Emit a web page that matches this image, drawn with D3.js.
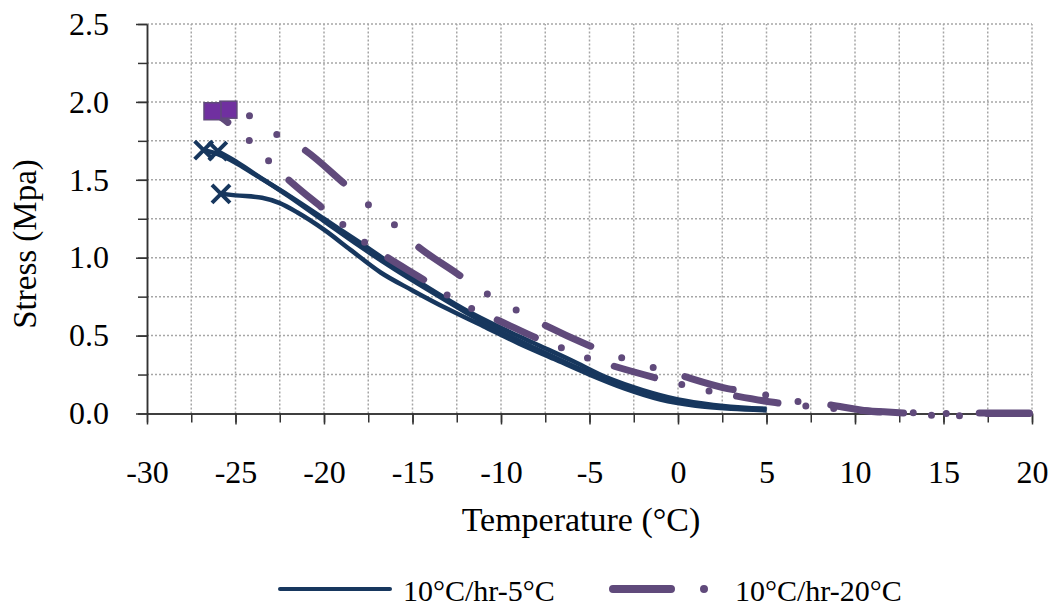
<!DOCTYPE html>
<html lang="en">
<head>
  <meta charset="UTF-8">
  <title>Stress vs temperature</title>
  <script src="https://d3js.org/d3.v7.min.js"></script>
  <style>
    body { margin: 0; background: #fff; }
    svg { display: block; font-family: "Liberation Serif", "Times New Roman", serif; }
  </style>
</head>
<body>
<script>
// axis ticks
var tempTicks = [-30, -25, -20, -15, -10, -5, 0, 5, 10, 15, 20];
var stressTicks = [0, 0.5, 1.0, 1.5, 2.0, 2.5];

// 10°C/hr-5°C : three specimens, [temperature, stress], cold end = fracture
var rate5A = [[-26.8, 1.69], [-26, 1.665], [-25, 1.61], [-24, 1.54], [-22, 1.40], [-20, 1.25],
  [-18, 1.10], [-16, 0.945], [-14, 0.80], [-12, 0.665], [-10, 0.55], [-8, 0.445], [-6, 0.34],
  [-4, 0.23], [-2, 0.15], [0, 0.09], [2, 0.055], [4, 0.035], [5, 0.03]];
var rate5B = [[-26, 1.684], [-25, 1.62], [-24, 1.545], [-22, 1.395], [-20, 1.235], [-18, 1.075],
  [-16, 0.925], [-14, 0.785], [-12, 0.65], [-10, 0.525], [-8, 0.415], [-6, 0.31], [-4, 0.21],
  [-2, 0.13], [0, 0.075], [2, 0.045], [4, 0.03], [5, 0.028]];
var rate5C = [[-25.82, 1.41], [-25, 1.40], [-23.5, 1.385], [-22.5, 1.35], [-21.5, 1.29],
  [-20, 1.18], [-18.5, 1.05], [-16.8, 0.905], [-15, 0.79], [-13, 0.67], [-11, 0.56], [-9, 0.45],
  [-7, 0.35], [-5, 0.25], [-3, 0.16], [-1, 0.09], [1, 0.05], [3, 0.03], [5, 0.02]];

// 10°C/hr-20°C : two specimens
var rate20A = [[-25.4, 1.95], [-24.2, 1.91], [-22.8, 1.80], [-21.2, 1.70], [-18.9, 1.48],
  [-17.6, 1.35], [-16.2, 1.23], [-15.0, 1.10], [-12.5, 0.90], [-11.1, 0.79], [-9.55, 0.69],
  [-8.1, 0.60], [-5.1, 0.44], [-3.5, 0.37], [-1.86, 0.31], [-0.3, 0.26], [2.8, 0.16],
  [4.5, 0.13], [6.2, 0.085], [8.0, 0.065], [11.3, 0.01], [13.0, 0.005], [14.9, 0.0],
  [16.7, 0.003], [20, 0.003]];
var rate20B = [[-26.3, 1.94], [-24.2, 1.75], [-23.2, 1.63], [-22.1, 1.51], [-20.1, 1.32],
  [-18.8, 1.20], [-17.6, 1.09], [-16.4, 1.00], [-14.1, 0.84], [-12.9, 0.75], [-11.6, 0.67],
  [-10.2, 0.60], [-7.9, 0.48], [-6.55, 0.42], [-5.2, 0.36], [-3.8, 0.31], [-1.3, 0.23],
  [0.06, 0.19], [1.5, 0.15], [2.9, 0.12], [5.5, 0.07], [7.1, 0.05], [9, 0.03], [11, 0.015],
  [12.5, 0.005], [14.2, -0.01], [15.8, -0.015], [17, 0.0], [20, 0.0]];

var legendLabels = ["10°C/hr-5°C", "10°C/hr-20°C"];

var navy = "#17375e", purple = "#604a7b", squareFill = "#7030a0";
var serif = "'Liberation Serif', 'Times New Roman', serif";
var width = 1055, height = 609;

var svg = d3.select("body").append("svg")
    .attr("width", width)
    .attr("height", height);

var x = d3.scaleLinear().domain([-30, 20]).range([147, 1032]);
var y = d3.scaleLinear().domain([0, 2.5]).range([413.5, 24]);

// dotted grid every 2.5 °C / 0.25 MPa
var xMinor = d3.range(-27.5, 20.01, 2.5);
var yMinor = d3.range(0.25, 2.51, 0.25);
var grid = svg.append("g")
    .attr("stroke", "#a6a6a6")
    .attr("stroke-width", 1.5)
    .attr("stroke-dasharray", "2,2");
grid.selectAll(".vx").data(xMinor).enter().append("line")
    .attr("x1", d => x(d)).attr("x2", d => x(d))
    .attr("y1", y(0)).attr("y2", y(2.5));
grid.selectAll(".hy").data(yMinor).enter().append("line")
    .attr("x1", x(-30)).attr("x2", x(20))
    .attr("y1", d => y(d)).attr("y2", d => y(d));

// axes: short minor ticks, then major ticks with labels
svg.append("g")
    .attr("transform", "translate(0," + y(0) + ")")
    .call(d3.axisBottom(x).tickValues(d3.range(-30, 20.01, 2.5)).tickSize(9).tickSizeOuter(0).tickFormat(""))
    .call(styleAxis);
svg.append("g")
    .attr("transform", "translate(0," + y(0) + ")")
    .call(d3.axisBottom(x).tickValues(tempTicks).tickSize(11).tickSizeOuter(0).tickPadding(36)
      .tickFormat(d => String(d)))
    .call(styleAxis);
svg.append("g")
    .attr("transform", "translate(" + x(-30) + ",0)")
    .call(d3.axisLeft(y).tickValues(d3.range(0, 2.51, 0.25)).tickSize(9).tickSizeOuter(0).tickFormat(""))
    .call(styleAxis);
svg.append("g")
    .attr("transform", "translate(" + x(-30) + ",0)")
    .call(d3.axisLeft(y).tickValues(stressTicks).tickSize(11).tickSizeOuter(0).tickPadding(27)
      .tickFormat(d3.format(".1f")))
    .call(styleAxis);

function styleAxis(g) {
  g.attr("font-family", serif).attr("font-size", 32);
  g.select(".domain").attr("stroke", "#333").attr("stroke-width", 1.5);
  g.selectAll(".tick line").attr("stroke", "#333").attr("stroke-width", 1.5);
  g.selectAll(".tick text").attr("fill", "#000");
}

svg.append("text")
    .attr("x", 581).attr("y", 531)
    .attr("text-anchor", "middle")
    .style("font-size", "34px")
    .text("Temperature (°C)");
svg.append("text")
    .attr("transform", "translate(36,244) rotate(-90)")
    .attr("text-anchor", "middle")
    .style("font-size", "33px")
    .text("Stress (Mpa)");

var line = d3.line()
    .x(d => x(d[0]))
    .y(d => y(d[1]))
    .curve(d3.curveMonotoneX);

// 5°C series
svg.append("g").selectAll("path").data([rate5A, rate5B, rate5C]).enter().append("path")
    .attr("d", line)
    .attr("fill", "none")
    .attr("stroke", navy)
    .attr("stroke-width", 4.5)
    .attr("stroke-linejoin", "round");
svg.append("g").selectAll("path").data([rate5A[0], rate5B[0], rate5C[0]]).enter().append("path")
    .attr("transform", d => "translate(" + x(d[0]) + "," + y(d[1]) + ")")
    .attr("d", "M-9,-9L9,9M-9,9L9,-9")
    .attr("stroke", navy)
    .attr("stroke-width", 4);

// 20°C series, long dash - dot - dot; pattern lengths differ a bit per specimen
var dash20 = [
  {pts: rate20A, dash: "50,33,0,33,0,33", offset: 61},
  {pts: rate20B, dash: "42,28,0,28,0,28", offset: 23}
];
svg.append("g").selectAll("path").data(dash20).enter().append("path")
    .attr("d", d => line(d.pts))
    .attr("fill", "none")
    .attr("stroke", purple)
    .attr("stroke-width", 7)
    .attr("stroke-linecap", "round")
    .attr("stroke-dasharray", d => d.dash)
    .attr("stroke-dashoffset", d => d.offset);
svg.append("g").selectAll("rect").data([rate20A[0], rate20B[0]]).enter().append("rect")
    .attr("x", d => x(d[0]) - 8.5).attr("y", d => y(d[1]) - 8.5)
    .attr("width", 17).attr("height", 17)
    .attr("fill", squareFill)
    .attr("stroke", purple)
    .attr("stroke-width", 1.5);

// legend
var lg = svg.append("g").style("font-size", "30px");
lg.append("line")
    .attr("x1", 280).attr("x2", 390).attr("y1", 589).attr("y2", 589)
    .attr("stroke", navy).attr("stroke-width", 4).attr("stroke-linecap", "round");
lg.append("text").attr("x", 403).attr("y", 601).text(legendLabels[0]);
lg.append("line")
    .attr("x1", 613).attr("x2", 720).attr("y1", 589).attr("y2", 589)
    .attr("stroke", purple).attr("stroke-width", 8).attr("stroke-linecap", "round")
    .attr("stroke-dasharray", "58,33,0,60");
lg.append("text").attr("x", 735).attr("y", 601).text(legendLabels[1]);
</script>
</body>
</html>
